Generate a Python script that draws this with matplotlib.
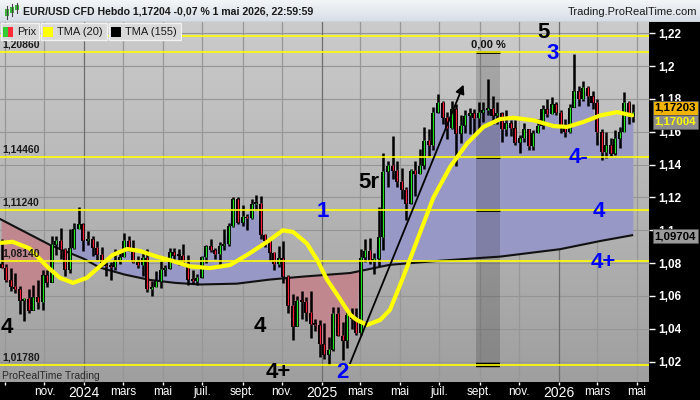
import matplotlib
matplotlib.use("Agg")
import matplotlib.pyplot as plt
import matplotlib.dates as mdates
from matplotlib.colors import LinearSegmentedColormap
from matplotlib.patches import Rectangle
import numpy as np
import pandas as pd

plt.rcParams['font.family'] = ['Liberation Sans', 'DejaVu Sans']

# weekly candles EUR/USD, one per week starting on these sundays
week_start = "2023-08-27"
n_weeks = 140
first_open = 1.0795

closes = [
    # 2023
    1.0775, 1.0700, 1.0660, 1.0645, 1.0573, 1.0587, 1.0512, 1.0594, 1.0565, 1.0730,
    1.0685, 1.0915, 1.0940, 1.0885, 1.0762, 1.0895, 1.1010, 1.1040,
    # 2024
    1.0940, 1.0950, 1.0897, 1.0853, 1.0787, 1.0784, 1.0777, 1.0820, 1.0838, 1.0938,
    1.0890, 1.0808, 1.0790, 1.0837, 1.0643, 1.0655, 1.0693, 1.0762, 1.0770, 1.0869,
    1.0847, 1.0848, 1.0800, 1.0703, 1.0692, 1.0713, 1.0840, 1.0907, 1.0883, 1.0857,
    1.0910, 1.0917, 1.1027, 1.1193, 1.1048, 1.1085, 1.1075, 1.1163, 1.1165, 1.0975,
    1.0937, 1.0866, 1.0795, 1.0833, 1.0720, 1.0545, 1.0415, 1.0575, 1.0567, 1.0500,
    1.0430, 1.0425, 1.0308,
    # 2025
    1.0245, 1.0275, 1.0495, 1.0360, 1.0330, 1.0490, 1.0460, 1.0375, 1.0835, 1.0880,
    1.0815, 1.0830, 1.0960, 1.1360, 1.1395, 1.1365, 1.1300, 1.1250, 1.1165, 1.1365,
    1.1345, 1.1395, 1.1550, 1.1520, 1.1720, 1.1780, 1.1690, 1.1625, 1.1740, 1.1590,
    1.1640, 1.1700, 1.1715, 1.1685, 1.1720, 1.1735, 1.1745, 1.1700, 1.1715, 1.1620,
    1.1655, 1.1625, 1.1535, 1.1565, 1.1620, 1.1515, 1.1595, 1.1640, 1.1740, 1.1710,
    1.1770, 1.1720,
    # 2026
    1.1640, 1.1600, 1.1750, 1.1850, 1.1800, 1.1870, 1.1820, 1.1780, 1.1600, 1.1480,
    1.1520, 1.1470, 1.1560, 1.1600, 1.1780, 1.1700, 1.1720,
]
highs = [
    1.0945, 1.0795, 1.0769, 1.0737, 1.0660, 1.0588, 1.0640, 1.0668, 1.0695, 1.0760,
    1.0756, 1.0965, 1.0965, 1.1017, 1.0894, 1.1009, 1.1043, 1.1139,
    1.1046, 1.0998, 1.0968, 1.0933, 1.0898, 1.0808, 1.0805, 1.0888, 1.0865, 1.0981,
    1.0964, 1.0942, 1.0842, 1.0876, 1.0885, 1.0690, 1.0753, 1.0812, 1.0790, 1.0895,
    1.0895, 1.0889, 1.0916, 1.0852, 1.0761, 1.0733, 1.0845, 1.0910, 1.0948, 1.0895,
    1.0927, 1.1008, 1.1047, 1.1201, 1.1202, 1.1155, 1.1102, 1.1190, 1.1214, 1.1210,
    1.0975, 1.0950, 1.0870, 1.0905, 1.0937, 1.0730, 1.0610, 1.0597, 1.0630, 1.0594,
    1.0630, 1.0458, 1.0456,
    1.0437, 1.0353, 1.0533, 1.0532, 1.0442, 1.0513, 1.0528, 1.0528, 1.0888, 1.0947,
    1.0955, 1.0860, 1.1144, 1.1473, 1.1425, 1.1573, 1.1425, 1.1380, 1.1265, 1.1375,
    1.1420, 1.1495, 1.1630, 1.1615, 1.1754, 1.1830, 1.1785, 1.1720, 1.1790, 1.1770,
    1.1700, 1.1730, 1.1745, 1.1740, 1.1780, 1.1780, 1.1919, 1.1820, 1.1780, 1.1720,
    1.1730, 1.1670, 1.1670, 1.1580, 1.1655, 1.1620, 1.1610, 1.1680, 1.1765, 1.1800,
    1.1810, 1.1780,
    1.1730, 1.1680, 1.1770, 1.2076, 1.1880, 1.1910, 1.1880, 1.1850, 1.1800, 1.1620,
    1.1600, 1.1560, 1.1610, 1.1630, 1.1840, 1.1790, 1.1770,
]
lows = [
    1.0772, 1.0686, 1.0631, 1.0617, 1.0488, 1.0448, 1.0495, 1.0524, 1.0522, 1.0516,
    1.0657, 1.0687, 1.0852, 1.0828, 1.0723, 1.0740, 1.0889, 1.1008,
    1.0877, 1.0910, 1.0844, 1.0818, 1.0780, 1.0722, 1.0695, 1.0761, 1.0795, 1.0836,
    1.0877, 1.0800, 1.0768, 1.0724, 1.0622, 1.0601, 1.0652, 1.0650, 1.0724, 1.0763,
    1.0805, 1.0788, 1.0791, 1.0668, 1.0671, 1.0666, 1.0710, 1.0800, 1.0870, 1.0825,
    1.0777, 1.0881, 1.0905, 1.1020, 1.1038, 1.1026, 1.1002, 1.1068, 1.1126, 1.0950,
    1.0900, 1.0811, 1.0761, 1.0775, 1.0682, 1.0497, 1.0332, 1.0426, 1.0460, 1.0450,
    1.0343, 1.0385, 1.0226,
    1.0215, 1.0180, 1.0266, 1.0355, 1.0210, 1.0285, 1.0400, 1.0360, 1.0360, 1.0805,
    1.0797, 1.0733, 1.0780, 1.0880, 1.1265, 1.1315, 1.1265, 1.1192, 1.1065, 1.1160,
    1.1210, 1.1355, 1.1375, 1.1445, 1.1490, 1.1715, 1.1650, 1.1557, 1.1615, 1.1390,
    1.1530, 1.1590, 1.1585, 1.1575, 1.1610, 1.1660, 1.1700, 1.1645, 1.1650, 1.1540,
    1.1575, 1.1575, 1.1520, 1.1470, 1.1540, 1.1490, 1.1490, 1.1590, 1.1615, 1.1690,
    1.1710, 1.1700,
    1.1590, 1.1570, 1.1590, 1.1750, 1.1760, 1.1790, 1.1760, 1.1740, 1.1520, 1.1430,
    1.1440, 1.1450, 1.1460, 1.1500, 1.1600, 1.1650, 1.1660,
]

# TMA (20) yellow
tma20_dates = [
    "2023-08-24", "2023-09-13", "2023-10-09", "2023-11-05", "2023-11-25", "2023-12-15",
    "2024-01-05", "2024-01-25", "2024-02-14", "2024-03-07", "2024-03-27", "2024-04-22",
    "2024-05-17", "2024-06-12", "2024-07-13", "2024-08-13", "2024-09-12", "2024-10-09",
    "2024-11-02", "2024-11-18", "2024-12-09", "2024-12-25", "2025-01-09", "2025-01-25",
    "2025-02-14", "2025-02-24", "2025-03-12", "2025-04-01", "2025-04-16", "2025-05-06",
    "2025-05-28", "2025-06-22", "2025-07-18", "2025-08-13", "2025-09-07", "2025-10-03",
    "2025-10-23", "2025-11-23", "2025-12-24", "2026-01-14", "2026-02-08", "2026-03-06",
    "2026-04-01", "2026-04-24",
]
tma20_vals = [
    1.0923, 1.0930, 1.0890, 1.0779, 1.0710, 1.0680,
    1.0710, 1.0780, 1.0850, 1.0886, 1.0874, 1.0840,
    1.0813, 1.0780, 1.0770, 1.0789, 1.0860, 1.0930,
    1.1000, 1.0990, 1.0920, 1.0820, 1.0700, 1.0606,
    1.0485, 1.0454, 1.0424, 1.0454, 1.0515, 1.0710,
    1.0940, 1.1200, 1.1388, 1.1530, 1.1630, 1.1678,
    1.1686, 1.1670, 1.1635, 1.1630, 1.1660, 1.1700,
    1.1720, 1.1700,
]

# TMA (155) black
tma155_dates = [
    "2023-08-24", "2023-10-02", "2023-11-10", "2024-01-01", "2024-01-25", "2024-03-04",
    "2024-04-11", "2024-05-20", "2024-06-27", "2024-08-23", "2024-10-13", "2024-12-03",
    "2025-02-14", "2025-04-16", "2025-07-03", "2025-10-03", "2026-01-03", "2026-03-06",
    "2026-04-24",
]
tma155_vals = [
    1.1070, 1.0990, 1.0910, 1.0826, 1.0773, 1.0730,
    1.0698, 1.0680, 1.0670, 1.0675, 1.0700, 1.0718,
    1.0740, 1.0790, 1.0815, 1.0840, 1.0885, 1.0935,
    1.0970,
]

levels = [1.2182, 1.2086, 1.1446, 1.1124, 1.0814, 1.0178]
level_labels = ["", "1,20860", "1,14460", "1,11240", "1,08140", "1,01780"]

band_dates = ["2025-08-27", "2025-10-02"]
band_marks = [1.2086, 1.1446, 1.1124, 1.0178]

arrow_dates = ["2025-02-12", "2025-08-09"]
arrow_vals = [1.0174, 1.1903]

wave_text = ["5", "3", "4", "4", "4+", "2", "5r", "1", "4-", "4", "4+"]
wave_dates = ["2025-12-09", "2025-12-22", "2023-09-04", "2024-09-28", "2024-10-26",
              "2025-02-02", "2025-03-14", "2025-01-03", "2026-01-31", "2026-03-03",
              "2026-03-11"]
wave_vals = [1.2205, 1.2080, 1.0406, 1.0412, 1.0132, 1.0132, 1.1294, 1.1112,
             1.1441, 1.1112, 1.0807]
wave_colors = ["k", "b", "k", "k", "k", "b", "k", "b", "b", "b", "b"]

xtick_dates = ["2023-09-01", "2023-11-01", "2024-01-01", "2024-03-01", "2024-05-01",
               "2024-07-01", "2024-09-01", "2024-11-01", "2025-01-01", "2025-03-01",
               "2025-05-01", "2025-07-01", "2025-09-01", "2025-11-01", "2026-01-01",
               "2026-03-01", "2026-05-01"]
xtick_labels = ["", "nov.", "2024", "mars", "mai", "juil.", "sept.", "nov.", "2025",
                "mars", "mai", "juil.", "sept.", "nov.", "2026", "mars", "mai"]
yticks = [1.02, 1.04, 1.06, 1.08, 1.10, 1.12, 1.14, 1.16, 1.18, 1.20, 1.22]

last_close = 1.17203
last_tma20 = 1.17004
last_tma155 = 1.09704


def d2n(dates):
    return mdates.date2num(pd.to_datetime(dates, format="ISO8601"))


fig = plt.figure(figsize=(7, 4), dpi=100, facecolor="black")

# ---- main chart
ax = fig.add_axes([0, 18 / 400, 649 / 700, 360 / 400])
x0, x1 = d2n(["2023-08-24T12:00", "2026-05-20T00:00"])
y0, y1 = 1.0076, 1.2269
ax.set_xlim(x0, x1)
ax.set_ylim(y0, y1)
for s in ax.spines.values():
    s.set_visible(False)

bg = LinearSegmentedColormap.from_list("bg", ["#9f9f9f", "#cbcbcb"])
ax.imshow(np.linspace(0, 1, 256).reshape(-1, 1), cmap=bg, origin="lower",
          extent=[x0, x1, y0, y1], aspect="auto", zorder=0)

xt = d2n(xtick_dates)
for v in yticks:
    ax.axhline(v, color="#959595", lw=0.8, zorder=1)
for v, lab in zip(xt, xtick_labels):
    dark = lab.isdigit()
    ax.axvline(v, color="#6e6e6e" if dark else "#979797", lw=0.9, zorder=1)

x = mdates.date2num(pd.date_range(week_start, periods=n_weeks, freq="7D"))
c = np.array(closes)
o = np.array([first_open] + closes[:-1])
h = np.maximum(np.array(highs), np.maximum(o, c))
l = np.minimum(np.array(lows), np.minimum(o, c))

# shading between price and TMA (155)
t155x = d2n(tma155_dates)
slow = np.interp(x, t155x, tma155_vals)
ax.fill_between(x, c, slow, where=c >= slow, interpolate=True,
                color="#9898c6", lw=0, zorder=2)
ax.fill_between(x, c, slow, where=c < slow, interpolate=True,
                color="#c0878f", lw=0, zorder=2)

# grey period band
b0, b1 = d2n(band_dates)
ax.add_patch(Rectangle((b0, band_marks[-1]), b1 - b0, band_marks[0] - band_marks[-1],
                       fc=(0, 0, 0, 0.16), ec="none", zorder=3))
ax.hlines(band_marks[:-1], b0, b1, color="black", lw=2.0, zorder=7)
ax.hlines(band_marks[-1], b0, b1, color="black", lw=3.2, zorder=7)
ax.text((b0 + b1) / 2, band_marks[0] + 0.0045, "0,00 %", ha="center", va="center",
        fontsize=8, fontweight="bold", color="#111111", zorder=9)

ax.plot(t155x, tma155_vals, color="#111111", lw=1.5, zorder=4)

# candles
ax.vlines(x, l, h, color="black", lw=1.8, zorder=5)
body_lo = np.minimum(o, c)
body_h = np.maximum(np.abs(c - o), 0.0012)
ax.bar(x, body_h, bottom=body_lo - 0.0003, width=6.2, color="black", lw=0, zorder=5)
up = c >= o
ax.vlines(x[up], o[up], c[up], color="#22e622", lw=0.9, zorder=6)
ax.vlines(x[~up], c[~up], o[~up], color="#ff1f3a", lw=0.9, zorder=6)

# horizontal levels
for v, lab in zip(levels, level_labels):
    ax.axhline(v, color="#ffff00", lw=1.2, zorder=7.5)
    if lab:
        ax.annotate(lab, xy=(0, v), xycoords=ax.get_yaxis_transform(),
                    xytext=(1.5, 2), textcoords="offset points", ha="left", va="bottom",
                    fontsize=7.5, fontweight="bold", color="#1a1a1a", zorder=9)

ax.plot(d2n(tma20_dates), tma20_vals, color="#ffff00", lw=3.0,
        solid_capstyle="round", solid_joinstyle="round", zorder=8)

ax.annotate("", xy=(d2n(arrow_dates[1:])[0], arrow_vals[1]),
            xytext=(d2n(arrow_dates[:1])[0], arrow_vals[0]),
            arrowprops=dict(arrowstyle="-|>", color="black", lw=1.3, mutation_scale=13),
            zorder=9)

for t, d, v, col in zip(wave_text, d2n(wave_dates), wave_vals, wave_colors):
    ax.text(d, v, t, color="#0000ff" if col == "b" else "#000000", fontsize=16,
            fontweight="bold", ha="center", va="center", zorder=10)

ax.text(0.003, 0.018, "ProRealTime Trading", transform=ax.transAxes, fontsize=7.5,
        color="#2a2a2a", ha="left", va="center", zorder=10)

# axes
ax.yaxis.tick_right()
ax.set_yticks(yticks)
ax.set_yticklabels([("%.2f" % v).rstrip("0").replace(".", ",") for v in yticks],
                   fontsize=8.5, fontweight="bold")
ax.tick_params(axis="y", colors="white", length=4, width=1, pad=3)
ax.set_xticks(xt)
ax.set_xticklabels(xtick_labels, fontsize=8.5)
ax.tick_params(axis="x", colors="white", length=2.5, width=1, pad=0.5)
for lab in ax.get_xticklabels():
    if lab.get_text().isdigit():
        lab.set_fontsize(10)

boxes = [(last_close, "1,17203", "#f0b400", "#000000", 3),
         (last_tma20, "1,17004", "#8c8c8c", "#ffff00", -4.5),
         (last_tma155, "1,09704", "#9a9a9a", "#000000", -0.8)]
for v, txt, fc, tc, dy in boxes:
    ax.annotate(txt, xy=(1, v), xycoords=ax.get_yaxis_transform(),
                xytext=(4, dy), textcoords="offset points", ha="left", va="center",
                fontsize=8.2, fontweight="bold", color=tc, annotation_clip=False,
                bbox=dict(boxstyle="square,pad=0.18", fc=fc, ec="#555555", lw=0.6),
                zorder=12)

# ---- header
hx = fig.add_axes([0, 378 / 400, 1, 22 / 400])
hx.set_xlim(0, 700)
hx.set_ylim(22, 0)
hx.axis("off")
hcm = LinearSegmentedColormap.from_list("hd", ["#f3f6f9", "#d6dde5"])
hx.imshow(np.linspace(0, 1, 64).reshape(-1, 1), cmap=hcm, extent=[0, 700, 22, 0],
          aspect="auto", zorder=0)
hx.axhline(21.5, color="#9aa4ae", lw=1)
for cx, cy0, cy1, bh0, bh1 in [(7, 6, 19, 9, 16), (12, 4, 16, 7, 13), (17, 3, 13, 5, 10)]:
    hx.plot([cx, cx], [cy0, cy1], color="#444444", lw=0.8)
    hx.add_patch(Rectangle((cx - 1.6, bh0), 3.2, bh1 - bh0, fc="#3cb43c", ec="none"))
hx.text(23, 11, "EUR/USD CFD Hebdo 1,17204 -0,07 % 1 mai 2026, 22:59:59",
        fontsize=7.6, fontweight="bold", color="#1a1a1a", va="center", ha="left")
hx.text(697, 12, "Trading.ProRealTime.com", fontsize=8, color="#1a1a1a",
        va="center", ha="right")

# ---- legend boxes
lx = fig.add_axes([0, 1 - 42 / 400, 182 / 700, 20 / 400])
lx.set_xlim(0, 182)
lx.set_ylim(20, 0)
lx.axis("off")
for bx0, bx1 in [(0, 39), (40, 107), (108, 181)]:
    lx.add_patch(Rectangle((bx0 + 0.5, 0.5), bx1 - bx0 - 1, 17.5, fc="#d9d9d9",
                           ec="#f2f2f2", lw=1))
lx.add_patch(Rectangle((3, 5), 5, 10, fc="#33cc33", ec="none"))
lx.add_patch(Rectangle((8, 5), 5, 10, fc="#ff2a3a", ec="none"))
lx.add_patch(Rectangle((43, 5), 10, 10, fc="#ffff00", ec="none"))
lx.add_patch(Rectangle((111, 5), 10, 10, fc="#000000", ec="none"))
for tx, txt in [(17, "Prix"), (57, "TMA (20)"), (125, "TMA (155)")]:
    lx.text(tx, 10, txt, fontsize=8, color="#1a1a1a", va="center", ha="left")

fig.savefig("out.png", dpi=100, facecolor="black")
